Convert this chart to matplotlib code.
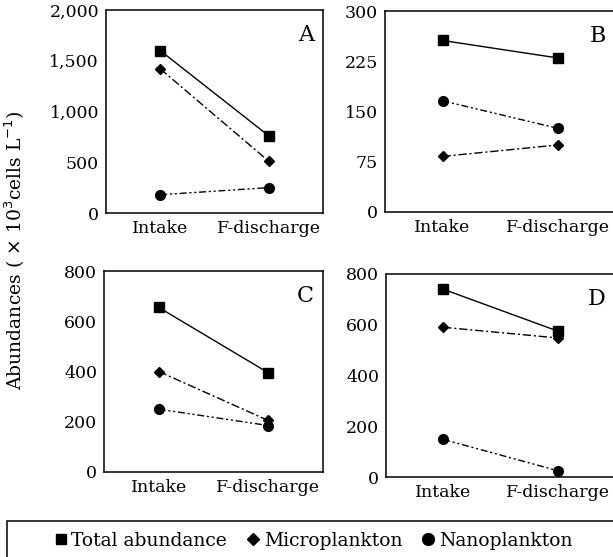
import numpy as np
import matplotlib.pyplot as plt
from matplotlib.lines import Line2D
from matplotlib.patches import Rectangle

plt.rcParams['font.family'] = ['DejaVu Serif']

etiquetas = ['Intake', 'F-discharge']
paneles = ['A', 'B', 'C', 'D']

# valores (x10^3 cells/L)
total = {'A': [1600, 760], 'B': [256, 230], 'C': [655, 395], 'D': [740, 575]}
micro = {'A': [1420, 510], 'B': [83, 100], 'C': [400, 205], 'D': [590, 548]}
nano = {'A': [180, 250], 'B': [166, 125], 'C': [250, 185], 'D': [148, 25]}

ylims = {'A': 2000, 'B': 300, 'C': 800, 'D': 800}
yticks = {'A': [0, 500, 1000, 1500, 2000], 'B': [0, 75, 150, 225, 300],
          'C': [0, 200, 400, 600, 800], 'D': [0, 200, 400, 600, 800]}

W, H = 613, 557
cajas = {'A': (106, 10, 217, 203), 'B': (385, 11, 230, 201),
         'C': (104, 271, 219, 201), 'D': (386, 274, 229, 203)}

fig = plt.figure(figsize=(W / 100, H / 100), dpi=100)

x = np.arange(len(etiquetas))
for p in paneles:
    l, t, w, h = cajas[p]
    ax = fig.add_axes([l / W, 1 - (t + h) / H, w / W, h / H])
    ax.plot(x, total[p], '-', color='black', lw=1, marker='s', ms=7)
    ax.plot(x, micro[p], color='black', lw=1, marker='D', ms=5.5, dashes=[6, 2, 1.5, 2])
    ax.plot(x, nano[p], color='black', lw=1, marker='o', ms=7, dashes=[5, 2, 1.5, 2, 1.5, 2])
    ax.set_xlim(-0.5, 1.5)
    ax.set_ylim(0, ylims[p])
    ax.set_xticks(x)
    ax.set_xticklabels(etiquetas)
    ax.set_yticks(yticks[p])
    if p == 'A':
        ax.set_yticklabels(['0', '500', '1,000', '1,500', '2,000'])
    ax.tick_params(length=0, labelsize=12.5, pad=5)
    for s in ax.spines.values():
        s.set_linewidth(1.1)
    ax.text(0.96, 0.93, p, transform=ax.transAxes, ha='right', va='top', fontsize=16)

fig.text(0.025, 1 - 250 / H, r'Abundances ( $\times$ 10$^3$cells L$^{-1}$)', rotation=90,
         ha='center', va='center', fontsize=13.5)

# recuadro de la leyenda
fig.patches.append(Rectangle((7 / W, -0.05), 1.0, (557 - 521) / H + 0.05,
                             transform=fig.transFigure, fill=False, lw=1.1,
                             edgecolor='black'))
handles = [Line2D([], [], ls='', marker='s', color='black', ms=7),
           Line2D([], [], ls='', marker='D', color='black', ms=6.5),
           Line2D([], [], ls='', marker='o', color='black', ms=8.5)]
fig.legend(handles, ['Total abundance', 'Microplankton', 'Nanoplankton'],
           loc='center', bbox_to_anchor=(312 / W, 1 - 541 / H),
           ncol=3, fontsize=13.5, frameon=False,
           handletextpad=0.05, handlelength=1, columnspacing=0.9)

plt.savefig('out.png', dpi=100)
